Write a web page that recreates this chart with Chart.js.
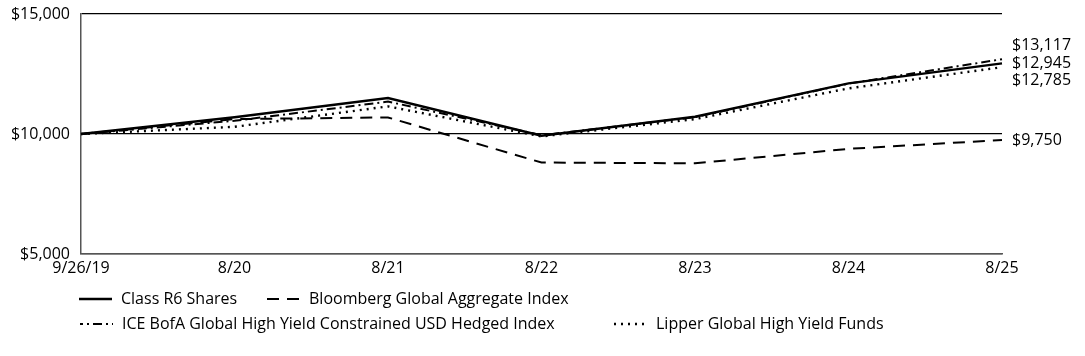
<!DOCTYPE html>
<html>
<head>
<meta charset="utf-8">
<script src="https://cdn.jsdelivr.net/npm/chart.js@4.4.1/dist/chart.umd.min.js"></script>
<style>
  html, body { margin: 0; padding: 0; background: #fff; }
  #wrap { width: 1085px; height: 356px; position: relative; }
</style>
</head>
<body>
<div id="wrap"><canvas id="c" width="1085" height="356"></canvas></div>
<script>
const categories = ["9/26/19", "8/20", "8/21", "8/22", "8/23", "8/24", "8/25"];
const classR6 = [10000, 10700, 11500, 9930, 10720, 12110, 12945];
const bloomberg = [10000, 10620, 10690, 8810, 8780, 9380, 9750];
const iceBofA = [10000, 10550, 11350, 9950, 10700, 12100, 13117];
const lipper = [10000, 10300, 11150, 9900, 10620, 11900, 12785];
const seriesNames = [
  "Class R6 Shares",
  "Bloomberg Global Aggregate Index",
  "ICE BofA Global High Yield Constrained USD Hedged Index",
  "Lipper Global High Yield Funds"
];
const yTicks = [5000, 10000, 15000];

const FONT = "'Open Sans', 'Noto Sans', sans-serif";
const FSIZE = 16;
const fmt = v => "$" + v.toLocaleString("en-US");

const styles = [
  { dash: [], width: 2.4 },
  { dash: [12, 8], width: 2 },
  { dash: [9, 4, 2, 4], width: 2 },
  { dash: [2, 5], width: 2.4 }
];
const seriesData = [classR6, bloomberg, iceBofA, lipper];

const datasets = seriesData.map((d, i) => ({
  label: seriesNames[i],
  data: d,
  borderColor: "#000",
  backgroundColor: "#000",
  borderWidth: styles[i].width,
  borderDash: styles[i].dash,
  pointRadius: 0,
  tension: 0,
  fill: false,
  order: i
}));

const endLabels = {
  id: "endLabels",
  afterDatasetsDraw(chart) {
    const { ctx, chartArea, scales } = chart;
    const items = seriesData.map(d => ({ v: d[d.length - 1], y: scales.y.getPixelForValue(d[d.length - 1]) }));
    items.sort((a, b) => a.y - b.y);
    const gap = 17.5;
    const groups = [];
    items.forEach(it => {
      const g = groups[groups.length - 1];
      if (g && it.y - g[g.length - 1].y < gap) g.push(it); else groups.push([it]);
    });
    ctx.save();
    ctx.font = FSIZE + "px " + FONT;
    ctx.fillStyle = "#000";
    ctx.textAlign = "left";
    ctx.textBaseline = "middle";
    groups.forEach(g => {
      const mean = g.reduce((s, it) => s + it.y, 0) / g.length;
      g.forEach((it, k) => {
        const y = mean + (k - (g.length - 1) / 2) * gap;
        ctx.fillText(fmt(it.v), chartArea.right + 10, y);
      });
    });
    ctx.restore();
  }
};

const customLegend = {
  id: "customLegend",
  afterDraw(chart) {
    const { ctx } = chart;
    const layout = [
      { i: 0, x: 79, y: 299 },
      { i: 1, x: 267, y: 299 },
      { i: 2, x: 80, y: 324 },
      { i: 3, x: 614, y: 324 }
    ];
    ctx.save();
    ctx.font = FSIZE + "px " + FONT;
    ctx.fillStyle = "#000";
    ctx.textBaseline = "middle";
    layout.forEach(L => {
      const s = styles[L.i];
      ctx.beginPath();
      ctx.setLineDash(s.dash);
      ctx.lineDashOffset = L.i === 2 ? 6 : 0;
      ctx.lineWidth = s.width;
      ctx.strokeStyle = "#000";
      ctx.moveTo(L.x, L.y);
      ctx.lineTo(L.x + 33, L.y);
      ctx.stroke();
      ctx.setLineDash([]);
      ctx.fillText(seriesNames[L.i], L.x + 42, L.y);
    });
    ctx.restore();
  }
};

new Chart(document.getElementById("c"), {
  type: "line",
  data: { labels: categories, datasets },
  options: {
    responsive: false,
    animation: false,
    devicePixelRatio: 1,
    layout: { padding: { left: 0, right: 83, top: 14, bottom: 78 } },
    plugins: { legend: { display: false }, tooltip: { enabled: false } },
    scales: {
      x: {
        type: "category",
        offset: false,
        grid: { display: false, drawTicks: false },
        border: { display: true, color: "#555", width: 1.5 },
        ticks: {
          color: "#000",
          font: { family: FONT, size: FSIZE },
          maxRotation: 0,
          autoSkip: false,
          padding: 5
        },
        afterFit(scale) { scale.height = 24; scale.paddingLeft = 0; scale.paddingRight = 0; }
      },
      y: {
        min: 5000,
        max: 15000,
        afterBuildTicks(scale) { scale.ticks = yTicks.map(v => ({ value: v })); },
        grid: {
          color: "#000",
          lineWidth: 1.2,
          drawTicks: false
        },
        border: { display: true, color: "#555", width: 1.5 },
        ticks: {
          color: "#000",
          font: { family: FONT, size: FSIZE },
          padding: 11,
          callback: v => fmt(v)
        },
        afterFit(scale) { scale.width = 81; scale.paddingTop = 0; scale.paddingBottom = 0; }
      }
    }
  },
  plugins: [endLabels, customLegend]
});
</script>
</body>
</html>
